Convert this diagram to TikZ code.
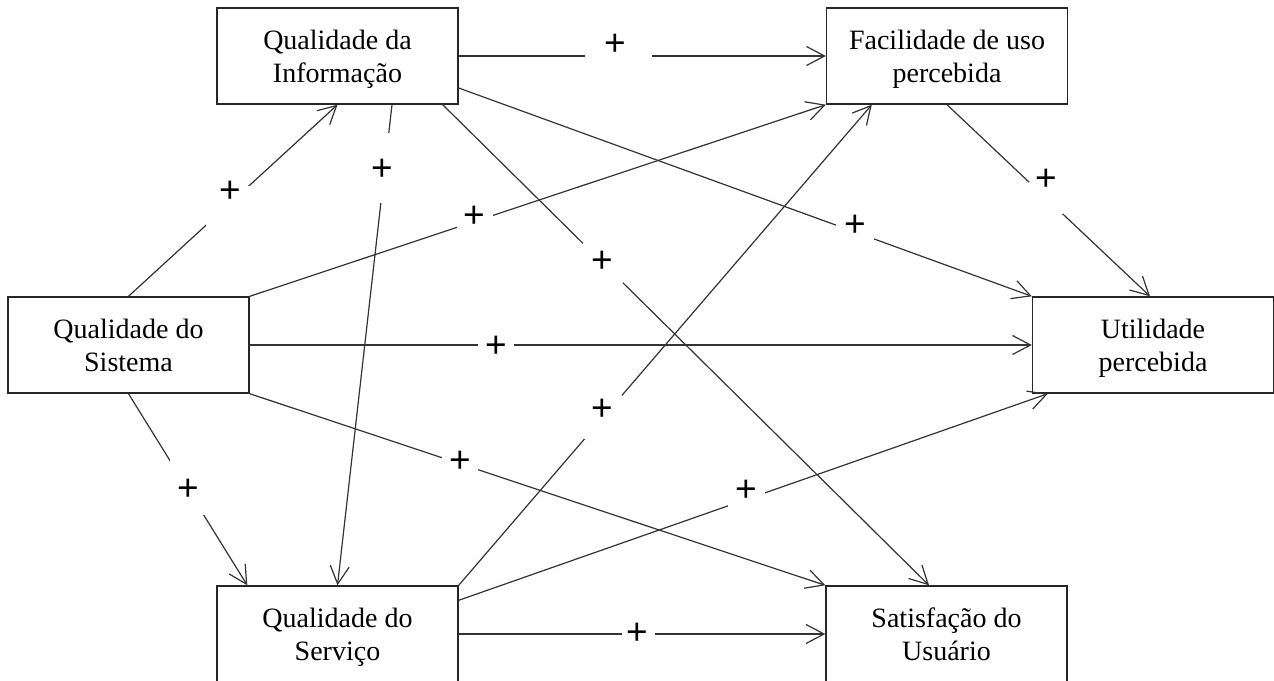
\documentclass[tikz,border=0pt]{standalone}
\usepackage{fontspec}
\setmainfont{Liberation Serif}
\newfontfamily\plusfont{Liberation Sans}
\usetikzlibrary{arrows.meta}
\begin{document}
\begin{tikzpicture}[x=1pt,y=-1pt,
  construct/.style={draw=black!85, line width=1.4pt, minimum width=241pt,
    minimum height=96pt, inner sep=0pt, align=center,
    font=\fontsize{28}{33}\selectfont, text depth=0pt},
  link/.style={draw=black!80, line width=1.2pt,
    -{Straight Barb[length=18pt,width=19pt]}},
  gap/.style={fill=white, inner sep=0pt},
  sign/.style={font=\plusfont\fontsize{37}{37}\selectfont, inner sep=0pt}
]
\useasboundingbox (0,0) rectangle (1274,680);
\fill[white] (0,0) rectangle (1274,680);

% constructs
\node[construct] (qi) at (337.5,56)  {Qualidade da\\Informação};
\node[construct] (fu) at (947,56)    {Facilidade de uso\\percebida};
\node[construct] (qs) at (128.5,345) {Qualidade do\\Sistema};
\node[construct] (up) at (1153,345)  {Utilidade\\percebida};
\node[construct] (sv) at (337.5,634) {Qualidade do\\Serviço};
\node[construct] (sa) at (946.5,634) {Satisfação do\\Usuário};

% hypothesised paths
\draw[link] (qs.north) -- (qi.south);
\draw[link] ([xshift=54.5pt]qi.south) -- (sv.north);
\draw[link] (qi.east) -- (fu.west);
\draw[link] ([yshift=-32pt]qi.east) -- (up.north west);
\draw[link] ([xshift=-16pt]qi.south east) -- ([xshift=-17.5pt]sa.north);
\draw[link] (fu.south) -- ([xshift=-3pt]up.north);
\draw[link] (qs.north east) -- (fu.south west);
\draw[link] (sv.north east) -- ([xshift=46pt]fu.south west);
\draw[link] (qs.east) -- (up.west);
\draw[link] (qs.south) -- ([xshift=31pt]sv.north west);
\draw[link] (qs.south east) -- (sa.north west);
\draw[link] ([yshift=-15pt]sv.north east) -- ([xshift=16pt]up.south west);
\draw[link] (sv.east) -- (sa.west);

% signs of the effects, each on a white patch that breaks its line
\node[gap, minimum width=44pt, minimum height=42pt,
  label={[sign, xshift=2.5pt, yshift=14.5pt]center:+}] (l1) at (227.5,206.5) {};
\node[gap, minimum width=20pt, minimum height=70pt,
  label={[sign, xshift=-3.5pt, yshift=-2pt]center:+}] (l2) at (385.5,168) {};
\node[gap, minimum width=67pt, minimum height=16pt,
  label={[sign, xshift=-3pt, yshift=12pt]center:+}] (l3) at (618,57) {};
\node[gap, minimum width=38pt, minimum height=18pt,
  label={[sign, yshift=5.6pt]center:+}] (l4) at (855,231.6) {};
\node[gap, minimum width=40pt, minimum height=40pt,
  label={[sign, xshift=-1pt, yshift=1.3pt]center:+}] (l5) at (603,263.3) {};
\node[gap, minimum width=34pt, minimum height=32pt,
  label={[sign, yshift=17.6pt]center:+}] (l6) at (1046,197.6) {};
\node[gap, minimum width=36pt, minimum height=16pt,
  label={[sign, xshift=-1pt, yshift=4pt]center:+}] (l7) at (475,221) {};
\node[gap, minimum width=38pt, minimum height=44pt,
  label={[sign, xshift=-1pt, yshift=7pt]center:+}] (l8) at (603,417) {};
\node[gap, minimum width=36pt, minimum height=16pt,
  label={[sign, yshift=-2pt]center:+}] (l9) at (496,345) {};
\node[gap, minimum width=36pt, minimum height=56pt,
  label={[sign, yshift=-3pt]center:+}] (l10) at (188,487) {};
\node[gap, minimum width=36pt, minimum height=16pt,
  label={[sign, yshift=1.6pt]center:+}] (l11) at (460,463.6) {};
\node[gap, minimum width=37pt, minimum height=17pt,
  label={[sign, yshift=9pt]center:+}] (l12) at (746,500) {};
\node[gap, minimum width=33pt, minimum height=16pt,
  label={[sign, xshift=-1pt, yshift=-1pt]center:+}] (l13) at (638,633) {};
\end{tikzpicture}
\end{document}
